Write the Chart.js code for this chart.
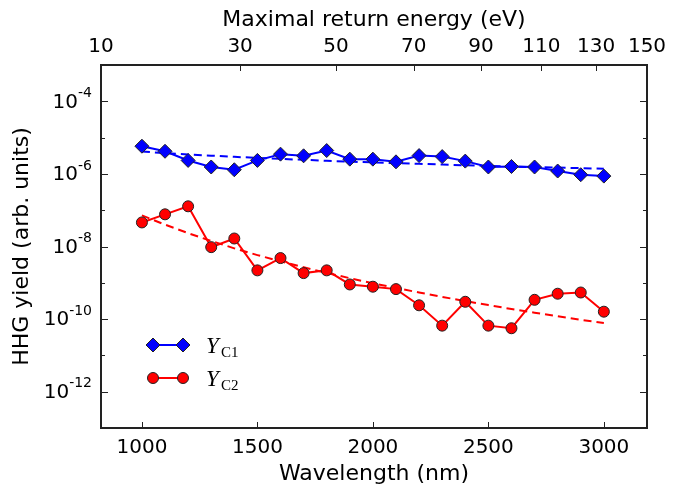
<!DOCTYPE html>
<html>
<head>
<meta charset="utf-8">
<script src="https://cdn.jsdelivr.net/npm/chart.js@4.4.0/dist/chart.umd.min.js"></script>
<style>
  html, body { margin: 0; padding: 0; background: #fff; }
  #wrap { width: 690px; height: 487px; }
</style>
</head>
<body>
<div id="wrap"><canvas id="c" width="690" height="487"></canvas></div>
<script>
/* Data */
const wavelengths = [1000, 1100, 1200, 1300, 1400, 1500, 1600, 1700, 1800, 1900, 2000,
                     2100, 2200, 2300, 2400, 2500, 2600, 2700, 2800, 2900, 3000];
const yieldC1 = [5.8e-6, 4.2e-6, 2.35e-6, 1.55e-6, 1.3e-6, 2.35e-6, 3.5e-6, 3.15e-6, 4.4e-6, 2.55e-6, 2.55e-6,
                 2.15e-6, 3.2e-6, 3.0e-6, 2.25e-6, 1.55e-6, 1.6e-6, 1.55e-6, 1.2e-6, 9.5e-7, 8.7e-7];
const yieldC2 = [4.6e-8, 7.7e-8, 1.28e-7, 9.6e-9, 1.66e-8, 2.2e-9, 4.8e-9, 1.85e-9, 2.2e-9, 9.0e-10, 7.8e-10,
                 6.7e-10, 2.4e-10, 6.6e-11, 3.0e-10, 6.6e-11, 5.6e-11, 3.4e-10, 5.0e-10, 5.4e-10, 1.6e-10];
const fitC1 = [4.12e-6, 3.75e-6, 3.44e-6, 3.18e-6, 2.95e-6, 2.76e-6, 2.59e-6, 2.44e-6, 2.30e-6, 2.18e-6, 2.07e-6,
               1.98e-6, 1.89e-6, 1.81e-6, 1.73e-6, 1.66e-6, 1.60e-6, 1.54e-6, 1.49e-6, 1.44e-6, 1.39e-6];
const fitC2 = [7.2e-8, 4.0e-8, 2.33e-8, 1.42e-8, 8.9e-9, 5.8e-9, 3.9e-9, 2.67e-9, 1.87e-9, 1.34e-9, 9.7e-10,
               7.2e-10, 5.4e-10, 4.1e-10, 3.13e-10, 2.43e-10, 1.90e-10, 1.50e-10, 1.20e-10, 9.6e-11, 7.8e-11];

const xTicks = [1000, 1500, 2000, 2500, 3000];
const energyTicks = [10, 30, 50, 70, 90, 110, 130, 150];   // top axis labels (eV)
const yDecades = [-13, -12, -11, -10, -9, -8, -7, -6, -5, -4, -3];
const yLabelDecades = [-12, -10, -8, -6, -4];

// Return energy grows with lambda^2: E = K * lambda^2 (eV, nm)
const ENERGY_K = 1.477e-5;
const lambdaForEnergy = (e) => Math.sqrt(e / ENERGY_K);

const BLUE = "#0000ff";
const RED = "#ff0000";
const INK = "#222222";
const SANS = '"DejaVu Sans", sans-serif';
const SERIF = '"Liberation Serif", "DejaVu Serif", serif';

const xy = (ys) => ys.map((v, i) => ({ x: wavelengths[i], y: v }));

/* Frame, inward ticks, y labels with exponents, and in-axes legend */
const decorations = {
  id: "decorations",
  afterDraw(chart) {
    const { ctx, chartArea: a, scales } = chart;
    const { x, xTop, y } = scales;
    ctx.save();
    ctx.strokeStyle = INK;
    ctx.lineWidth = 1;
    ctx.beginPath();
    xTicks.forEach((v) => {
      const px = Math.round(x.getPixelForValue(v)) + 0.5;
      ctx.moveTo(px, a.bottom); ctx.lineTo(px, a.bottom - 6);
    });
    energyTicks.forEach((e) => {
      const px = Math.round(xTop.getPixelForValue(lambdaForEnergy(e))) + 0.5;
      ctx.moveTo(px, a.top); ctx.lineTo(px, a.top + 6);
    });
    yDecades.forEach((d) => {
      const py = Math.round(y.getPixelForValue(Math.pow(10, d))) + 0.5;
      const len = yLabelDecades.includes(d) ? 7 : 4;
      ctx.moveTo(a.left, py); ctx.lineTo(a.left + len, py);
      ctx.moveTo(a.right, py); ctx.lineTo(a.right - len, py);
    });
    ctx.stroke();

    ctx.lineWidth = 2;
    ctx.strokeRect(a.left, a.top, a.right - a.left, a.bottom - a.top);

    // y tick labels: 10 with a raised exponent
    ctx.fillStyle = "#000";
    ctx.textBaseline = "middle";
    yLabelDecades.forEach((d) => {
      const py = y.getPixelForValue(Math.pow(10, d));
      const exp = String(d);
      ctx.font = "14px " + SANS;
      const wExp = ctx.measureText(exp).width;
      const right = a.left - 9;
      ctx.textAlign = "right";
      ctx.fillText(exp, right, py - 8);
      ctx.font = "20px " + SANS;
      ctx.fillText("10", right - wExp, py + 1);
    });

    // legend
    const entries = [
      { color: BLUE, style: "rectRot", radius: 7, sub: "C1", y: 345 },
      { color: RED, style: "circle", radius: 5.5, sub: "C2", y: 378 },
    ];
    entries.forEach((en) => {
      ctx.strokeStyle = en.color;
      ctx.lineWidth = 2;
      ctx.beginPath();
      ctx.moveTo(153, en.y); ctx.lineTo(183, en.y);
      ctx.stroke();
      ctx.fillStyle = en.color;
      ctx.strokeStyle = INK;
      ctx.lineWidth = 1;
      [153, 183].forEach((px) => {
        Chart.helpers.drawPoint(ctx, { pointStyle: en.style, radius: en.radius, rotation: 0, borderWidth: 1 }, px, en.y);
      });
      ctx.fillStyle = "#000";
      ctx.textAlign = "left";
      ctx.textBaseline = "alphabetic";
      ctx.font = "italic 23px " + SERIF;
      ctx.fillText("Y", 206, en.y + 8);
      ctx.font = "15px " + SERIF;
      ctx.fillText(en.sub, 221, en.y + 12);
    });
    ctx.restore();
  },
};

const ctx = document.getElementById("c").getContext("2d");
new Chart(ctx, {
  type: "line",
  data: {
    datasets: [
      {
        label: "YC1",
        data: xy(yieldC1),
        borderColor: BLUE,
        backgroundColor: BLUE,
        borderWidth: 2,
        pointStyle: "rectRot",
        pointRadius: 7,
        pointBorderColor: INK,
        pointBorderWidth: 1,
        tension: 0,
        order: 1,
      },
      {
        label: "YC2",
        data: xy(yieldC2),
        borderColor: RED,
        backgroundColor: RED,
        borderWidth: 2,
        pointStyle: "circle",
        pointRadius: 5.5,
        pointBorderColor: INK,
        pointBorderWidth: 1,
        tension: 0,
        order: 1,
      },
      {
        label: "fit C1",
        data: xy(fitC1),
        borderColor: BLUE,
        borderWidth: 2,
        borderDash: [8, 5],
        pointRadius: 0,
        tension: 0,
        order: 2,
      },
      {
        label: "fit C2",
        data: xy(fitC2),
        borderColor: RED,
        borderWidth: 2,
        borderDash: [8, 5],
        pointRadius: 0,
        tension: 0,
        order: 2,
      },
    ],
  },
  options: {
    responsive: false,
    animation: false,
    layout: { padding: { left: 0, right: 43, top: 0, bottom: 0 } },
    plugins: { legend: { display: false }, tooltip: { enabled: false } },
    scales: {
      x: {
        type: "linear",
        position: "bottom",
        min: lambdaForEnergy(energyTicks[0]),
        max: lambdaForEnergy(energyTicks[energyTicks.length - 1]),
        afterBuildTicks: (s) => { s.ticks = xTicks.map((v) => ({ value: v })); },
        afterFit: (s) => { s.height = 59; },
        grid: { display: false, drawTicks: false },
        border: { display: false },
        ticks: {
          color: "#000", font: { family: SANS, size: 20 }, padding: 8, maxRotation: 0, autoSkip: false,
          callback: (v) => String(v),
        },
        title: { display: true, text: "Wavelength (nm)", color: "#000", font: { family: SANS, size: 22 }, padding: { top: 0, bottom: 0 } },
      },
      xTop: {
        type: "linear",
        position: "top",
        min: lambdaForEnergy(energyTicks[0]),
        max: lambdaForEnergy(energyTicks[energyTicks.length - 1]),
        afterBuildTicks: (s) => { s.ticks = energyTicks.map((e) => ({ value: lambdaForEnergy(e) })); },
        afterFit: (s) => { s.height = 65; },
        grid: { display: false, drawTicks: false },
        border: { display: false },
        ticks: {
          color: "#000", font: { family: SANS, size: 20 }, padding: 6, maxRotation: 0, autoSkip: false,
          callback: (v, i) => String(energyTicks[i]),
        },
        title: { display: true, text: "Maximal return energy (eV)", color: "#000", font: { family: SANS, size: 22 }, padding: { top: 7, bottom: 0 } },
      },
      y: {
        type: "logarithmic",
        position: "left",
        min: 1e-13,
        max: 1e-3,
        afterBuildTicks: (s) => { s.ticks = yDecades.map((d) => ({ value: Math.pow(10, d) })); },
        afterFit: (s) => { s.width = 101; },
        grid: { display: false, drawTicks: false },
        border: { display: false },
        ticks: { display: false },
        title: { display: true, text: "HHG yield (arb. units)", color: "#000", font: { family: SANS, size: 22 }, padding: { top: 9, bottom: 0 } },
      },
    },
  },
  plugins: [decorations],
});
</script>
</body>
</html>
